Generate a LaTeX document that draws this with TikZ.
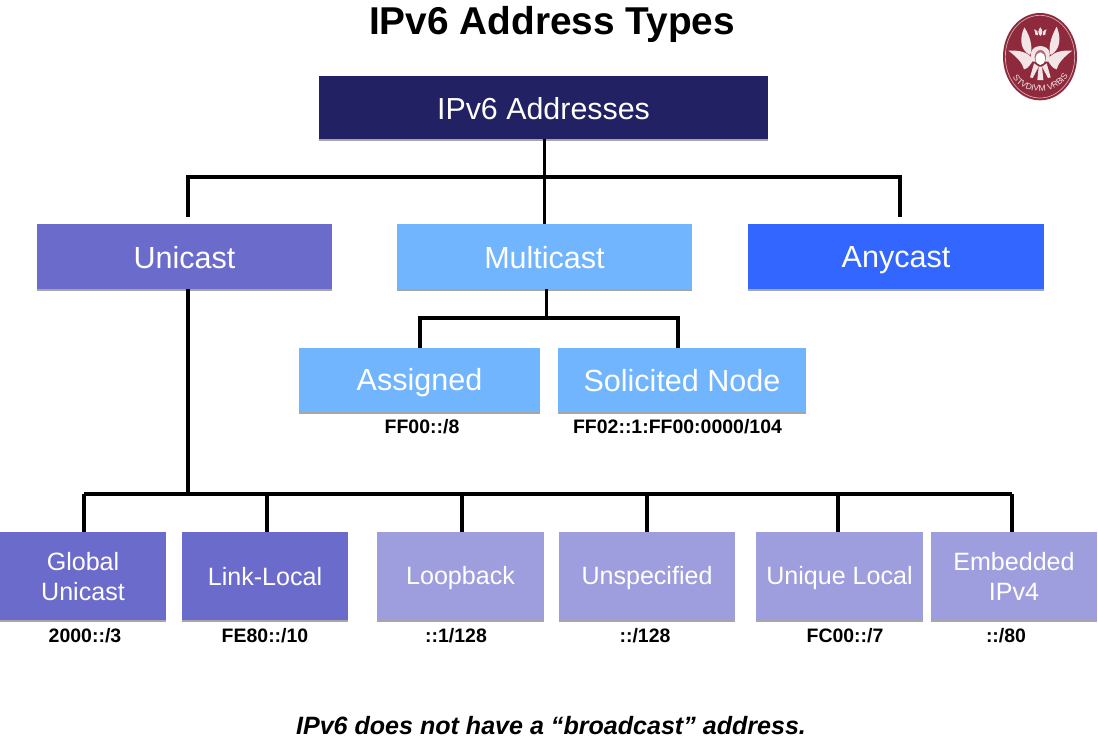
\documentclass[tikz,border=0pt]{standalone}
\usepackage{fontspec}
\setmainfont{Liberation Sans}
\usetikzlibrary{shadows,decorations.text}
\definecolor{cRoot}{HTML}{212163}
\definecolor{cUni}{HTML}{6B6BCC}
\definecolor{cMulti}{HTML}{71B5FF}
\definecolor{cAny}{HTML}{3366FF}
\definecolor{cLight}{HTML}{9E9EDE}
\definecolor{cLogo}{HTML}{8E2A3C}
\definecolor{cLogoL}{HTML}{F3E4E6}
\newcommand{\st}{\rule[-0.16em]{0pt}{1.08em}}
\tikzset{
  boxbase/.style={rectangle,inner sep=0pt,text=white,align=center,anchor=center,
    drop shadow={shadow xshift=0pt,shadow yshift=-1.5pt,fill=black!35,opacity=1}},
  bigbox/.style={boxbase,minimum width=295*0.75pt,minimum height=65*0.75pt,font=\fontsize{22.9}{26}\selectfont},
  midbox/.style={boxbase,minimum height=64*0.75pt,font=\fontsize{22.9}{26}\selectfont},
  lowbox/.style={boxbase,minimum width=166*0.75pt,minimum height=88*0.75pt,font=\fontsize{18.8}{22.5}\selectfont},
  addr/.style={inner sep=0pt,font=\bfseries\fontsize{14.6}{17}\selectfont},
  conn/.style={draw=black,line width=2.5pt},
  logow/.style={fill=cLogoL,draw=none},
}
\begin{document}
\begin{tikzpicture}[x=0.75pt,y=-0.75pt]
\useasboundingbox (0,0) rectangle (1098,742);
\fill[white] (0,0) rectangle (1098,742);

\node[inner sep=0pt,font=\bfseries\fontsize{29.1}{32}\selectfont] (title) at (552,24) {IPv6 Address Types};

\node[boxbase,fill=cRoot,minimum width=449*0.75pt,minimum height=63*0.75pt,font=\fontsize{22.8}{26}\selectfont] (root) at (543.5,107.5) {\st IPv6 Addresses};
\node[bigbox,fill=cUni] (uni) at (184.5,256.5) {\st Unicast};
\node[bigbox,fill=cMulti] (multi) at (544.5,256.5) {\st Multicast};
\node[bigbox,fill=cAny,minimum width=296*0.75pt] (any) at (896,256.5) {\st Anycast};

\node[midbox,fill=cMulti,minimum width=241*0.75pt] (asg) at (419.5,380) {\st Assigned};
\node[midbox,fill=cMulti,minimum width=248*0.75pt] (sol) at (682,380) {\st Solicited Node};
\node[addr] (asga) at (422,427) {FF00::/8};
\node[addr] (sola) at (677.5,427) {FF02::1:FF00:0000/104};

\node[lowbox,fill=cUni] (glob) at (83,576) {\st Global\\\st Unicast};
\node[lowbox,fill=cUni] (link) at (265,576) {\st Link-Local};
\node[lowbox,fill=cLight,minimum width=167*0.75pt] (loop) at (460.5,576) {\st Loopback};
\node[lowbox,fill=cLight,minimum width=176*0.75pt] (unsp) at (647,576) {\st Unspecified};
\node[lowbox,fill=cLight,minimum width=167*0.75pt] (uniq) at (839.5,576) {\st Unique Local};
\node[lowbox,fill=cLight] (embd) at (1014,576) {\st Embedded\\\st IPv4};
\node[addr] (globa) at (85,636) {2000::/3};
\node[addr] (linka) at (265,636) {FE80::/10};
\node[addr] (loopa) at (456,636) {::1/128};
\node[addr] (unspa) at (645,636) {::/128};
\node[addr] (uniqa) at (845,636) {FC00::/7};
\node[addr] (embda) at (1006,636) {::/80};

\node[inner sep=0pt,font=\bfseries\itshape\fontsize{18.8}{22}\selectfont] (foot) at (551,726) {IPv6 does not have a “broadcast” address.};

% connectors
\coordinate (busL) at (188,177);
\coordinate (busR) at (900,177);
\coordinate (dropU) at (188,217);
\coordinate (dropA) at (900,217);
\draw[conn] (root.south -| multi.north) -- (multi.north);
\draw[conn] (dropU) -- (busL) -- (busR) -- (dropA);

\coordinate (mL) at (420,318);
\coordinate (mR) at (678,318);
\coordinate (asgT) at (420,348);
\coordinate (solT) at (678,348);
\coordinate (mS) at (546.5,289);
\draw[conn] (mS) -- (mS |- mL);
\draw[conn] (asgT) -- (mL) -- (mR) -- (solT);

\coordinate (uS) at (188,289);
\coordinate (lowB) at (188,494);
\coordinate (lowL) at (84,494);
\coordinate (lowR) at (1012,494);
\draw[conn] (uS) -- (lowB);
\draw[conn] (lowL) -- (lowR);
\foreach \xx/\nn in {84/glob,267/link,462/loop,647/unsp,838/uniq,1012/embd}{
  \draw[conn] (\xx,494) -- (\nn.north -| \xx,494);
}

% logo
\begin{scope}[shift={(980,0)},x=0.75pt/3,y=-0.75pt/3]
\fill[cLogo] (180,170) ellipse [x radius=111,y radius=131];
\draw[cLogoL,line width=0.5pt,opacity=.7] (180,170) ellipse [x radius=104,y radius=124];
% upper wings
\path[logow] (133,82) .. controls (118,115) and (120,150) .. (150,165) .. controls (158,150) and (155,115) .. (133,82) -- cycle;
\path[logow] (230,80) .. controls (245,115) and (240,150) .. (212,165) .. controls (204,150) and (210,115) .. (230,80) -- cycle;
% lower wings
\path[logow] (85,152) .. controls (115,150) and (145,155) .. (160,180) .. controls (150,195) and (145,205) .. (132,208) .. controls (128,190) and (110,170) .. (85,152) -- cycle;
\path[logow] (277,152) .. controls (247,150) and (217,155) .. (202,180) .. controls (212,195) and (217,205) .. (230,208) .. controls (234,190) and (252,170) .. (277,152) -- cycle;
% crown
\path[logow] (181,108) .. controls (172,100) and (174,90) .. (181,82) .. controls (188,90) and (190,100) .. (181,108) -- cycle;
\path[logow] (166,104) .. controls (164,96) and (166,92) .. (162,88) .. controls (172,90) and (176,98) .. (174,106) -- cycle;
\path[logow] (196,104) .. controls (198,96) and (196,92) .. (200,88) .. controls (190,90) and (186,98) .. (188,106) -- cycle;
% strands and head
\path[logow] (162,190) -- (150,232) -- (158,234) -- (176,200) -- cycle;
\path[logow] (200,190) -- (212,232) -- (204,234) -- (186,200) -- cycle;
\path[logow] (176,200) -- (172,240) -- (190,240) -- (186,200) -- cycle;
\path[logow] (181,138) .. controls (150,140) and (148,165) .. (158,185) -- (204,185) .. controls (214,165) and (212,140) .. (181,138) -- cycle;
\fill[cLogo!70!white] (181,172) ellipse [x radius=17,y radius=22];
\fill[white] (181,176) ellipse [x radius=14,y radius=19];
% motto
\path[decorate,decoration={text along path,text align=center,
  text={|\fontsize{6.4}{7}\selectfont\color{cLogoL}|STVDIVM VRBIS}}]
  (92,218) .. controls (115,292) and (245,296) .. (270,212);
\end{scope}
\end{tikzpicture}
\end{document}
